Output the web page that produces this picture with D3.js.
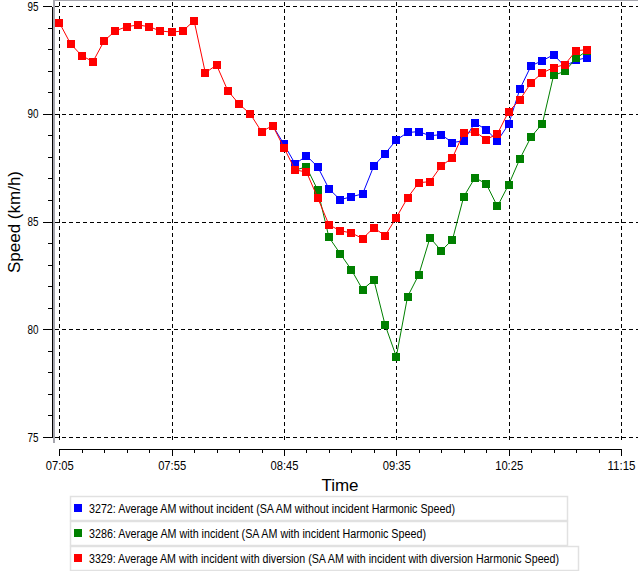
<!DOCTYPE html>
<html>
<head>
<meta charset="utf-8">
<script src="https://cdn.jsdelivr.net/npm/d3@7"></script>
<style>
  html, body { margin: 0; padding: 0; background: #ffffff; }
  svg { display: block; }
</style>
</head>
<body>
<svg id="chart" width="638" height="571"></svg>
<script>
// ---------------- DATA ----------------
const times = ["07:05","07:10","07:15","07:20","07:25","07:30","07:35","07:40","07:45","07:50",
  "07:55","08:00","08:05","08:10","08:15","08:20","08:25","08:30","08:35","08:40",
  "08:45","08:50","08:55","09:00","09:05","09:10","09:15","09:20","09:25","09:30",
  "09:35","09:40","09:45","09:50","09:55","10:00","10:05","10:10","10:15","10:20",
  "10:25","10:30","10:35","10:40","10:45","10:50","10:55","11:00"];

const blueValues = [null,null,null,null,null,null,null,null,null,null,
  null,null,null,null,null,null,null,null,null,89.45,
  88.58,87.67,88.05,87.54,86.52,86.01,86.15,86.28,87.58,88.15,
  88.78,89.13,89.17,88.98,89.03,88.66,88.75,89.58,89.26,88.74,
  89.52,91.15,92.23,92.46,92.74,92.20,92.49,92.60];

const greenValues = [null,null,null,null,null,null,null,null,null,null,
  null,null,null,null,null,null,null,null,null,null,
  null,87.39,87.53,86.46,84.27,83.51,82.76,81.84,82.29,80.20,
  78.73,81.51,82.53,84.25,83.64,84.16,86.15,87.03,86.75,85.70,
  86.71,87.91,88.93,89.54,91.78,91.97,92.57,92.93];

const redValues = [94.23,93.25,92.69,92.42,93.39,93.85,94.04,94.12,94.04,93.84,
  93.79,93.84,94.32,91.90,92.26,91.07,90.45,89.99,89.17,89.45,
  88.42,87.39,87.30,86.10,84.85,84.57,84.47,84.21,84.71,84.34,
  85.18,86.10,86.80,86.85,87.58,87.96,89.12,89.17,88.80,89.07,
  90.10,90.65,91.44,91.90,92.14,92.28,92.93,92.97];

const seriesNames = [
  "3272: Average AM without incident (SA AM without incident Harmonic Speed)",
  "3286: Average AM with incident (SA AM with incident Harmonic Speed)",
  "3329: Average AM with incident with diversion (SA AM with incident with diversion Harmonic Speed)"
];
const seriesColors = ["#0000ff", "#008000", "#ff0000"];

const xTickLabels = ["07:05","07:55","08:45","09:35","10:25","11:15"];
const xMinorTickLabels = ["07:15","07:25","07:35","07:45","08:05","08:15","08:25","08:35",
  "08:55","09:05","09:15","09:25","09:45","09:55","10:05","10:15","10:35","10:45","10:55","11:05"];
const yTicks = [75, 80, 85, 90, 95];
const yMinorTicks = [76,77,78,79,81,82,83,84,86,87,88,89,91,92,93,94];
const xTitle = "Time";
const yTitle = "Speed (km/h)";

// ---------------- DRAW ----------------
const toMin = s => (+s.slice(0, 2)) * 60 + (+s.slice(3, 5));
const svg = d3.select("#chart");
const FONT = "Liberation Sans, Arial, sans-serif";

const x = d3.scaleLinear().domain([toMin("07:05"), toMin("11:15")]).range([59.3, 621]);
const y = d3.scaleLinear().domain([75, 95]).range([437, 6]);

const plot = { left: 53, top: 0, right: 638, bottom: 443 };

// plot frame (grey left & top)
svg.append("line").attr("x1", plot.left + 1).attr("x2", plot.left + 1).attr("y1", 0).attr("y2", plot.bottom)
  .attr("stroke", "#a6a6ae").attr("stroke-width", 2);
svg.append("line").attr("x1", plot.left).attr("x2", plot.right).attr("y1", 0.5).attr("y2", 0.5)
  .attr("stroke", "#a6a6ae").attr("stroke-width", 1);

// grid
const grid = svg.append("g");
grid.selectAll("line.h").data(yTicks).join("line")
  .attr("x1", plot.left + 2).attr("x2", plot.right)
  .attr("y1", d => Math.round(y(d)) + 0.5).attr("y2", d => Math.round(y(d)) + 0.5)
  .attr("stroke", "#000").attr("stroke-width", 1).attr("stroke-dasharray", "4,3");
grid.selectAll("line.v").data(xTickLabels).join("line")
  .attr("x1", d => Math.round(x(toMin(d))) + 0.5).attr("x2", d => Math.round(x(toMin(d))) + 0.5)
  .attr("y1", 2).attr("y2", plot.bottom)
  .attr("stroke", "#000").attr("stroke-width", 1).attr("stroke-dasharray", "4,3");

// Y axis
svg.append("g").attr("class", "yaxis").attr("transform", "translate(51.5,0)")
  .call(d3.axisLeft(y).tickValues(yTicks).tickSize(9).tickSizeOuter(0).tickPadding(4).tickFormat(d3.format("d")));
svg.append("g").attr("transform", "translate(51.5,0)")
  .call(d3.axisLeft(y).tickValues(yMinorTicks).tickSize(4).tickSizeOuter(0).tickFormat(""))
  .select(".domain").remove();

// X axis
svg.append("g").attr("class", "xaxis").attr("transform", "translate(0,448.5)")
  .call(d3.axisBottom(x).tickValues(xTickLabels.map(toMin)).tickSize(7).tickSizeOuter(0).tickPadding(5)
    .tickFormat((d, i) => xTickLabels[i]));
svg.append("g").attr("transform", "translate(0,448.5)")
  .call(d3.axisBottom(x).tickValues(xMinorTickLabels.map(toMin)).tickSize(4).tickSizeOuter(0).tickFormat(""))
  .select(".domain").remove();

svg.selectAll(".tick text").attr("font-family", FONT).attr("font-size", 13).attr("fill", "#000")
  .attr("lengthAdjust", "spacingAndGlyphs");
svg.selectAll(".yaxis .tick text").attr("textLength", 11);
svg.selectAll(".xaxis .tick text").attr("textLength", 28);
svg.selectAll(".domain, .tick line").attr("stroke", "#000").attr("shape-rendering", "crispEdges");

// titles
svg.append("text").attr("x", 340).attr("y", 491).attr("text-anchor", "middle")
  .attr("font-family", FONT).attr("font-size", 17).text(xTitle);
svg.append("text").attr("transform", "translate(20,222) rotate(-90)").attr("text-anchor", "middle")
  .attr("font-family", FONT).attr("font-size", 17).text(yTitle);

// series
const allSeries = [blueValues, greenValues, redValues];
const line = d3.line().defined(d => d.v !== null).x(d => x(toMin(d.t))).y(d => y(d.v));
allSeries.forEach((vals, si) => {
  const pts = times.map((t, i) => ({ t, v: vals[i] }));
  const g = svg.append("g");
  g.append("path").datum(pts).attr("d", line).attr("fill", "none")
    .attr("stroke", seriesColors[si]).attr("stroke-width", 1);
  g.selectAll("rect").data(pts.filter(d => d.v !== null)).join("rect")
    .attr("x", d => Math.round(x(toMin(d.t))) - 4).attr("y", d => Math.round(y(d.v)) - 4)
    .attr("width", 8).attr("height", 8).attr("fill", seriesColors[si]);
});

// legend
const legendTextWidths = [366, 337, 470];
const legendBoxWidths = [497, 497, 508];
const lg = svg.append("g");
seriesNames.forEach((name, i) => {
  const top = 496 + i * 25;
  lg.append("rect").attr("x", 70.5).attr("y", top + 0.5).attr("width", legendBoxWidths[i]).attr("height", 24)
    .attr("fill", "#ffffff").attr("stroke", "#e1e1e1").attr("stroke-width", 1.5);
  lg.append("rect").attr("x", 74).attr("y", top + 8).attr("width", 8).attr("height", 8).attr("fill", seriesColors[i]);
  lg.append("text").attr("x", 89).attr("y", top + 16.5)
    .attr("font-family", FONT).attr("font-size", 12)
    .attr("textLength", legendTextWidths[i]).attr("lengthAdjust", "spacingAndGlyphs")
    .attr("fill", "#000").text(name);
});
</script>
</body>
</html>
